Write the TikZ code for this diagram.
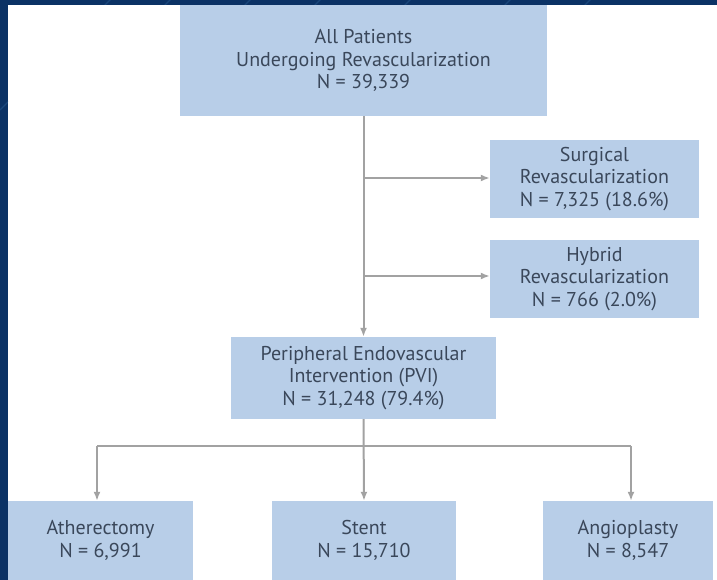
\documentclass[tikz,border=0pt]{standalone}
\usepackage{fontspec}
\setmainfont{PT Sans}
\usetikzlibrary{arrows.meta}
\definecolor{navy}{HTML}{0B3265}
\definecolor{navylight}{HTML}{2A5C92}
\definecolor{boxfill}{HTML}{B8CEE8}
\definecolor{txt}{HTML}{3A475A}
\definecolor{arr}{HTML}{A2A2A2}
\tikzset{
  box/.style={fill=boxfill, draw=none, inner sep=0pt, align=center, text=txt,
    font=\fontsize{20}{22.5}\selectfont},
  conn/.style={draw=arr, line width=2pt},
  arrowc/.style={conn, -{Latex[length=9pt,width=7pt]}},
}
\begin{document}
\begin{tikzpicture}[x=1pt,y=-1pt]
\useasboundingbox (0,0) rectangle (717,580);
% frame
\fill[white] (0,0) rectangle (717,580);
\fill[navy] (0,0) rectangle (717,5);
\fill[navy] (0,0) rectangle (8,580);
\begin{scope}
\clip (0,0) rectangle (8,580) (0,0) rectangle (717,5);
\foreach \s in {120,180,260,330,420,520,600} {
  \draw[navylight, line width=1.2pt, opacity=0.5] (\s,-10) -- (\s-120,110);
}
\end{scope}
% boxes
\node[box, minimum width=367pt, minimum height=111pt] (top) at (363.5,60.5)
  {All Patients\\Undergoing Revascularization\\N = 39,339};
\node[box, minimum width=209pt, minimum height=78pt] (surg) at (594.5,179)
  {Surgical\\Revascularization\\N = 7,325 (18.6\%)};
\node[box, minimum width=209pt, minimum height=78pt] (hyb) at (594.5,279)
  {Hybrid\\Revascularization\\N = 766 (2.0\%)};
\node[box, minimum width=265pt, minimum height=82pt] (pvi) at (363.5,378)
  {Peripheral Endovascular\\Intervention (PVI)\\N = 31,248 (79.4\%)};
\node[box, minimum width=185pt, minimum height=79pt] (ath) at (100.5,540.5)
  {Atherectomy\\N = 6,991};
\node[box, minimum width=184pt, minimum height=79pt] (stent) at (364,540.5)
  {Stent\\N = 15,710};
\node[box, minimum width=170pt, minimum height=79pt] (ang) at (628,540.5)
  {Angioplasty\\N = 8,547};
% connectors
\coordinate (s1) at (363.5,178);
\coordinate (h1) at (363.5,276);
\coordinate (busl) at (97,446);
\coordinate (busr) at (631,446);
\draw[arrowc] (top.south) -- (pvi.north);
\draw[arrowc] (s1) -- (s1 -| surg.west);
\draw[arrowc] (h1) -- (h1 -| hyb.west);
\draw[arrowc] (pvi.south) -- (stent.north);
\draw[conn] (busl) -- (busr);
\draw[arrowc] (busl) -- (busl |- ath.north);
\draw[arrowc] (busr) -- (busr |- ang.north);
\end{tikzpicture}
\end{document}
